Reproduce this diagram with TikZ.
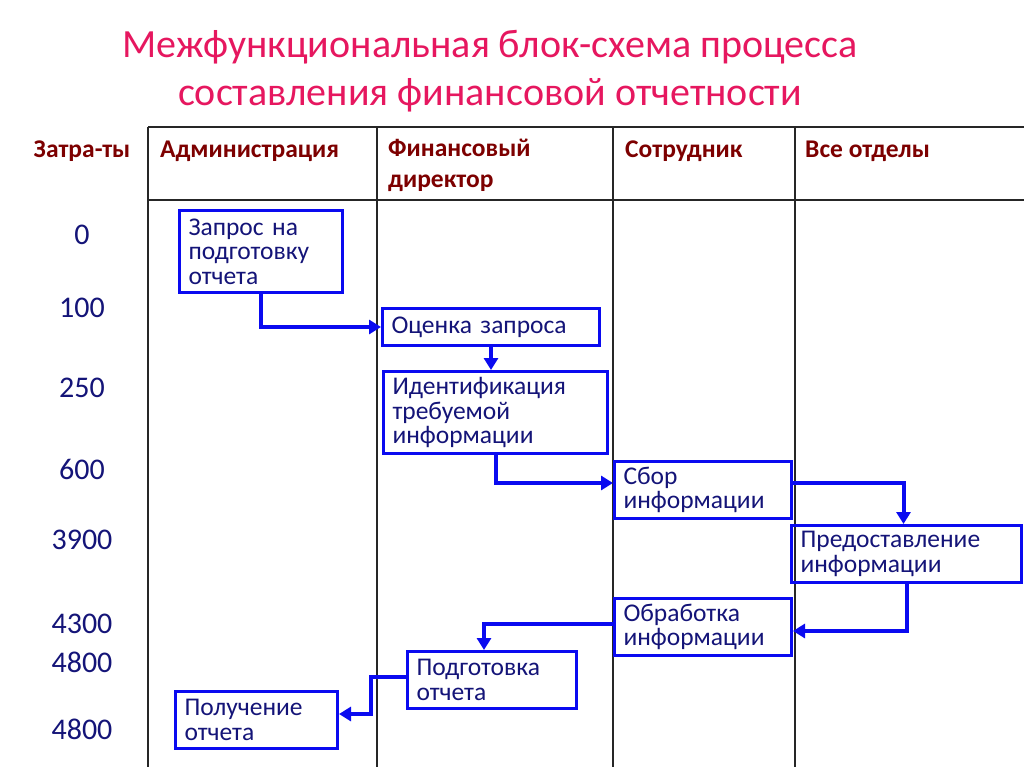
\documentclass[tikz,border=0pt]{standalone}
\usepackage{fontspec}
\setmainfont{Carlito}
\usetikzlibrary{positioning}
\usetikzlibrary{arrows,arrows.meta}
\usetikzlibrary{calc}

\definecolor{titlered}{RGB}{230,23,95}
\definecolor{headred}{RGB}{125,0,0}
\definecolor{navy}{RGB}{20,20,120}
\definecolor{boxblue}{RGB}{10,10,240}

\begin{document}
\begin{tikzpicture}[x=1pt, y=-1pt,
    grid/.style={black!85, line width=1.4pt},
    head/.style={anchor=west, text=headred, font=\fontsize{25.5}{31}\selectfont\bfseries, align=left, inner sep=0pt},
    cost/.style={text=navy, font=\fontsize{30}{34}\selectfont, inner sep=0pt},
    task/.style={draw=boxblue, line width=3pt, anchor=north west, text=navy,
        font=\fontsize{25.5}{24.5}\selectfont, align=left, inner xsep=9pt, inner ysep=0pt},
    flow/.style={draw=boxblue, line width=4pt, -{Triangle[length=12pt, width=14pt]}}]

    \useasboundingbox[fill=white] (0,0) rectangle (1024,767);

    % Titel
    \node[text=titlered, font=\fontsize{40}{48}\selectfont, align=center] (title) at (490,71)
        {Межфункциональная блок-схема процесса\\составления финансовой отчетности};

    % Tabelle
    \draw[grid] (148,127) -- (1024,127);
    \draw[grid] (148,200) -- (1024,200);
    \draw[grid] (148,127) -- (148,767);
    \draw[grid] (377,127) -- (377,767);
    \draw[grid] (613,127) -- (613,767);
    \draw[grid] (795,127) -- (795,767);

    \node[head, anchor=center] (hcost) at (82,151) {Затра-ты};
    \node[head] (hadm) at (160,151) {Администрация};
    \node[head, anchor=north west] (hfin) at (388,139) {Финансовый\\директор};
    \node[head] (hemp) at (625,151) {Сотрудник};
    \node[head] (hall) at (805,151) {Все отделы};

    % Kosten
    \node[cost] (c0) at (82,235) {0};
    \node[cost] (c1) at (82,308) {100};
    \node[cost] (c2) at (82,388) {250};
    \node[cost] (c3) at (82,469) {600};
    \node[cost] (c4) at (82,540) {3900};
    \node[cost] (c5) at (82,624) {4300};
    \node[cost] (c6) at (82,662) {4800};
    \node[cost] (c7) at (82,729) {4800};

    % Schritte
    \node[task, minimum width=163pt, minimum height=82pt, text width=145pt] (req) at (178,209)
        {Запрос на\\подготовку\\отчета};
    \node[task, minimum width=217pt, minimum height=37pt, text width=199pt] (eval) at (381,307)
        {Оценка запроса};
    \node[task, minimum width=224pt, minimum height=82pt, text width=206pt] (ident) at (382,370)
        {Идентификация\\требуемой\\информации};
    \node[task, minimum width=177pt, minimum height=57pt, text width=159pt] (collect) at (613,460)
        {Сбор\\информации};
    \node[task, minimum width=230pt, minimum height=57pt, text width=212pt] (provide) at (790,524)
        {Предоставление\\информации};
    \node[task, minimum width=177pt, minimum height=57pt, text width=159pt] (process) at (613,597)
        {Обработка\\информации};
    \node[task, minimum width=169pt, minimum height=57pt, text width=151pt] (prep) at (406,650)
        {Подготовка\\отчета};
    \node[task, minimum width=162pt, minimum height=57pt, text width=144pt] (recv) at (174,690)
        {Получение\\отчета};

    % Pfeile
    \draw[flow] (req.south) |- (eval.west);
    \draw[flow] (eval.south) -- (eval.south |- ident.north);
    \draw[flow] (ident.south) |- ([yshift=7pt]collect.west);
    \draw[flow] ([yshift=7pt]collect.east) -| ([xshift=-3pt]provide.north);
    \draw[flow] (provide.south) |- ([yshift=-4pt]process.east);
    \draw[flow] ([yshift=3pt]process.west) -| ([xshift=-8pt]prep.north);
    \draw[flow] ([yshift=3pt]prep.west) -- ++(-35,0) |- ([yshift=6pt]recv.east);
\end{tikzpicture}
\end{document}
